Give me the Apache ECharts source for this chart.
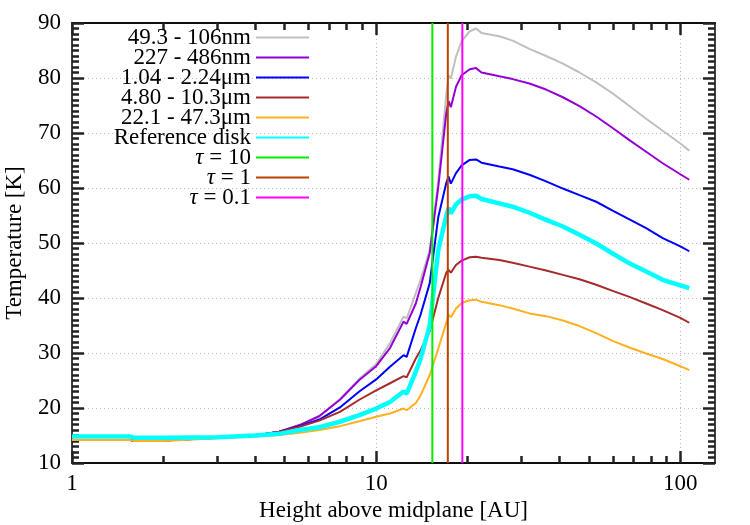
<!DOCTYPE html>
<html>
<head>
<meta charset="utf-8">
<script src="https://cdn.jsdelivr.net/npm/echarts@6/dist/echarts.min.js"></script>
<style>
html, body { margin: 0; padding: 0; background: #fff; }
#chart { width: 750px; height: 525px; }
</style>
</head>
<body>
<div id="chart"></div>
<script>
// height above midplane [AU], shared by all curves
var heights = [1, 1.55, 1.6, 2, 3, 4, 4.8, 5.6, 6.5, 7.6, 8.8, 10, 11.1, 12.3, 12.6, 13.5, 14, 15, 16, 17,
  17.3, 17.6, 18.3, 19.1, 20.3, 21.3, 22.2, 25.4, 28.1, 31.9, 36.2, 41.1, 46.6, 52.9, 59.9,
  68, 77.2, 87.5, 100, 107];

// temperatures [K]
var tNm49 = [14.2, 14.2, 14.0, 14.1, 14.6, 15.0, 15.7, 16.9, 18.6, 21.6, 25.3, 28.0, 31.8, 36.6, 36.3,
  40.9, 43.3, 48.7, 61.3, 77.0, 80.5, 79.9, 83.9, 86.7, 88.5, 89.0, 88.2, 87.6, 86.8, 85.3,
  84.0, 82.6, 81.0, 79.2, 77.2, 74.9, 72.6, 70.4, 68.1, 66.8];
var tNm227 = [14.2, 14.2, 14.0, 14.1, 14.6, 15.0, 15.7, 16.9, 18.5, 21.5, 25.1, 27.6, 30.9, 35.7, 35.3,
  39.0, 42.0, 48.2, 60.2, 73.6, 75.8, 74.7, 78.4, 80.5, 81.6, 81.8, 81.0, 80.3, 79.8, 79.0,
  77.9, 76.5, 74.9, 73.0, 70.9, 68.7, 66.6, 64.5, 62.5, 61.5];
var tUm1 = [14.2, 14.2, 14.0, 14.1, 14.6, 15.0, 15.7, 16.7, 17.9, 20.1, 23.0, 25.2, 27.5, 29.6, 29.3,
  34.5, 37.0, 42.7, 54.7, 60.9, 62.1, 60.8, 62.7, 64.1, 65.1, 65.2, 64.6, 63.9, 63.4, 62.4,
  61.2, 59.9, 58.7, 57.5, 55.9, 54.3, 52.7, 50.9, 49.4, 48.5];
var tUm4 = [14.2, 14.2, 14.0, 14.1, 14.6, 15.0, 15.7, 16.6, 17.7, 19.3, 21.5, 23.2, 24.5, 25.8, 25.6,
  29.0, 30.5, 34.0, 40.0, 44.6, 45.1, 44.6, 46.0, 46.8, 47.4, 47.5, 47.3, 46.9, 46.4, 45.7,
  45.0, 44.2, 43.4, 42.4, 41.3, 40.2, 39.0, 37.8, 36.4, 35.5];
var tUm22 = [14.2, 14.2, 14.0, 14.0, 14.5, 14.8, 15.1, 15.5, 16.0, 16.7, 17.6, 18.4, 19.0, 19.9, 19.6,
  20.9, 22.3, 26.0, 30.8, 35.5, 36.9, 36.5, 38.1, 39.1, 39.6, 39.7, 39.3, 38.7, 38.1, 37.2,
  36.7, 35.9, 34.9, 33.6, 32.2, 31.0, 29.9, 28.9, 27.6, 26.9];
var tRef = [14.8, 14.8, 14.6, 14.6, 14.7, 15.0, 15.3, 16.0, 16.5, 17.5, 18.7, 19.9, 21.1, 23.0, 22.6,
  26.6, 29.0, 35.0, 48.7, 55.0, 56.4, 55.4, 57.0, 57.9, 58.5, 58.6, 58.0, 57.2, 56.6, 55.5,
  54.2, 53.0, 51.5, 49.9, 48.1, 46.3, 44.8, 43.3, 42.3, 41.8];

// optical depth surfaces [AU]
var tauNames = ['τ = 10', 'τ = 1', 'τ = 0.1'];
var tauHeights = [15.3, 17.2, 19.2];

var bandNames = ['49.3 - 106nm', '227 - 486nm', '1.04 - 2.24μm', '4.80 - 10.3μm', '22.1 - 47.3μm', 'Reference disk'];
var bandTemps = [tNm49, tNm227, tUm1, tUm4, tUm22, tRef];
var bandColors = ['#c0c0c0', '#9400d3', '#0000ff', '#a52a2a', '#ffb020', '#00ffff'];
var bandWidths = [2, 2, 2, 2, 2, 4.5];
var tauColors = ['#00ee00', '#c04000', '#ff00ff'];

var xMajor = [1, 10, 100];
var xMinor = [2, 3, 4, 5, 6, 7, 8, 9, 20, 30, 40, 50, 60, 70, 80, 90];

var font = 'Liberation Serif';
var tickColor = '#222';
var myChart = echarts.init(document.getElementById('chart'));

var series = [];
for (var i = 0; i < bandNames.length; i++) {
  series.push({
    name: bandNames[i],
    type: 'line',
    symbol: 'none',
    color: bandColors[i],
    lineStyle: { width: bandWidths[i], color: bandColors[i] },
    data: heights.map(function (h, k) { return [h, bandTemps[i][k]]; })
  });
}
for (var j = 0; j < tauNames.length; j++) {
  series.push({
    name: tauNames[j],
    type: 'line',
    symbol: 'none',
    color: tauColors[j],
    lineStyle: { width: 2, color: tauColors[j] },
    data: [[tauHeights[j], 10], [tauHeights[j], 90]]
  });
}

function xAx(pos, ticks, len, main) {
  var lab = main && pos === 'bottom';
  return {
    type: 'log', logBase: 10, min: 1, max: 130, position: pos,
    axisLine: { show: true, onZero: false, lineStyle: { color: '#000', width: 1.5 } },
    axisTick: { show: true, inside: true, length: len, customValues: ticks,
      lineStyle: { color: tickColor, width: 2.5 } },
    axisLabel: lab
      ? { show: true, customValues: xMajor, color: '#000', fontFamily: font, fontSize: 23, margin: 9 }
      : { show: false },
    splitLine: { show: lab, lineStyle: { color: '#bbb', type: [1, 3], width: 1 } },
    name: lab ? 'Height above midplane [AU]' : '',
    nameLocation: 'middle', nameGap: 36,
    nameTextStyle: { color: '#000', fontFamily: font, fontSize: 23 }
  };
}

function yAx(pos) {
  var left = pos === 'left';
  return {
    type: 'value', min: 10, max: 90, interval: 10, position: pos,
    axisLine: { show: true, onZero: false, lineStyle: { color: '#000', width: 1.5 } },
    axisTick: { show: true, inside: true, length: 12, lineStyle: { color: tickColor, width: 2.5 } },
    minorTick: { show: true, splitNumber: 10, length: 7, lineStyle: { color: tickColor, width: 2.5 } },
    axisLabel: { show: left, color: '#000', fontFamily: font, fontSize: 23, margin: 11 },
    splitLine: { show: left, lineStyle: { color: '#bbb', type: [1, 3], width: 1 } },
    name: left ? 'Temperature [K]' : '',
    nameLocation: 'middle', nameGap: 46,
    nameTextStyle: { color: '#000', fontFamily: font, fontSize: 23 }
  };
}

myChart.setOption({
  animation: false,
  backgroundColor: '#fff',
  grid: { left: 72, right: 35, top: 23, bottom: 62, outerBoundsMode: 'none', containLabel: false },
  legend: {
    orient: 'vertical', align: 'right', right: 435, top: 21,
    selectedMode: false,
    itemWidth: 53, itemHeight: 14, itemGap: -3,
    itemStyle: { opacity: 0 },
    data: bandNames.concat(tauNames),
    formatter: function (name) {
      return name.charAt(0) === 'τ' ? '{i|τ}' + name.slice(1) : name;
    },
    textStyle: {
      color: '#000', fontFamily: font, fontSize: 23,
      rich: { i: { fontStyle: 'italic', fontFamily: font, fontSize: 23 } }
    }
  },
  xAxis: [
    xAx('bottom', xMajor, 12, true),
    xAx('bottom', xMinor, 7, false),
    xAx('top', xMajor, 12, true),
    xAx('top', xMinor, 7, false)
  ],
  yAxis: [yAx('left'), yAx('right')],
  series: series
});
</script>
</body>
</html>
